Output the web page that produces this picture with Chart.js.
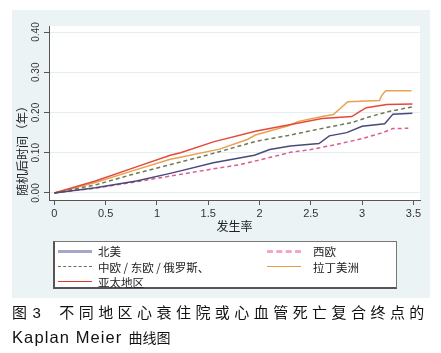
<!DOCTYPE html>
<html lang="zh">
<head>
<meta charset="UTF-8">
<title>Kaplan Meier 曲线图</title>
<script src="https://cdn.jsdelivr.net/npm/chart.js"></script>
<style>
    body { margin: 0; background: #fff; width: 441px; height: 353px; overflow: hidden; }
    #panel { position: absolute; left: 12px; top: 10px; width: 418px; height: 288px; background: #ecf3f5; }
    #legend { position: absolute; left: 41px; top: 231px; width: 341px; height: 45px; background: #fff;
              border: 1px solid #777; border-left: 2px solid #555; border-bottom: 2px solid #555; }
    .item { position: absolute; height: 14px; font: 11.5px "Noto Sans CJK SC", sans-serif; color: #222; white-space: pre; }
    .item .swatch { position: absolute; top: 7px; width: 34px; height: 0; }
    .item .txt { position: absolute; left: 40px; top: -1px; line-height: 16px; }
    #caption { position: absolute; left: 12px; top: 301px; font-family: "Liberation Sans", "Noto Sans CJK SC", sans-serif; color: #111; }
    #caption div { height: 24px; line-height: 24px; white-space: nowrap; }
</style>
</head>
<body>
<div id="panel">
    <canvas id="km" width="418" height="288"></canvas>
    <div id="legend"></div>
</div>
<div id="caption">
    <div style="font-size:15px; letter-spacing:4.45px;">图<span style="margin-left:1px">3</span><span style="margin-left:14px">不同地区心衰住院或心血管死亡复合终点的</span></div>
    <div><span style="font-size:16.5px; letter-spacing:1.1px;">Kaplan Meier</span><span style="font-size:14px; margin-left:6px;">曲线图</span></div>
</div>

<script>
    // axis ticks
    var xTickValues = [0, 0.5, 1, 1.5, 2, 2.5, 3, 3.5];
    var xTickLabels = ['0', '0.5', '1', '1.5', '2', '2.5', '3', '3.5'];
    var yTickValues = [0, 0.1, 0.2, 0.3, 0.4];
    var yTickLabels = ['0.00', '0.10', '0.20', '0.30', '0.40'];

    var seriesNames = ['北美', '中欧 / 东欧 / 俄罗斯、', '亚太地区', '西欧', '拉丁美洲'];

    // 北美
    var naTime = [0, 0.4, 0.8, 1.15, 1.55, 1.95, 2.1, 2.3, 2.58, 2.68, 2.85, 3.0, 3.22, 3.3, 3.49];
    var naRate = [0, 0.013, 0.030, 0.050, 0.075, 0.094, 0.108, 0.117, 0.123, 0.142, 0.150, 0.166, 0.172, 0.196, 0.198];
    // 中欧 / 东欧 / 俄罗斯
    var ceTime = [0, 0.4, 0.8, 1.2, 1.5, 1.78, 1.96, 2.28, 2.6, 2.9, 3.04, 3.25, 3.49];
    var ceRate = [0, 0.020, 0.049, 0.075, 0.095, 0.115, 0.128, 0.143, 0.160, 0.175, 0.187, 0.202, 0.214];
    // 亚太地区
    var apTime = [0, 0.4, 0.8, 1.13, 1.23, 1.55, 1.97, 2.28, 2.61, 2.9, 2.96, 3.04, 3.24, 3.49];
    var apRate = [0, 0.030, 0.065, 0.094, 0.100, 0.127, 0.154, 0.169, 0.185, 0.190, 0.200, 0.212, 0.220, 0.221];
    // 西欧
    var weTime = [0, 0.4, 0.8, 1.2, 1.5, 1.8, 2.0, 2.3, 2.5, 2.7, 3.0, 3.2, 3.3, 3.45];
    var weRate = [0, 0.012, 0.028, 0.045, 0.058, 0.070, 0.082, 0.101, 0.108, 0.118, 0.135, 0.150, 0.160, 0.161];
    // 拉丁美洲
    var laTime = [0, 0.4, 0.8, 1.13, 1.23, 1.61, 1.88, 1.96, 2.28, 2.38, 2.61, 2.72, 2.86, 3.17, 3.19, 3.23, 3.48];
    var laRate = [0, 0.026, 0.058, 0.084, 0.089, 0.109, 0.133, 0.144, 0.167, 0.178, 0.190, 0.195, 0.227, 0.230, 0.242, 0.254, 0.254];

    var lineStyles = [
        { color: '#4a4a7a', dash: [], legendColor: '#a6a6c9', legendWidth: 3, legendDash: 'solid' },
        { color: '#6e7b52', dash: [4, 3], legendColor: '#6d6d58', legendWidth: 1, legendDash: 'dashed' },
        { color: '#e5493a', dash: [], legendColor: '#e8352c', legendWidth: 1.5, legendDash: 'solid' },
        { color: '#dd5a95', dash: [4, 3], legendColor: '#f3a6cb', legendWidth: 3, legendDash: 'dashed' },
        { color: '#e9a050', dash: [], legendColor: '#e89a48', legendWidth: 1.5, legendDash: 'solid' }
    ];

    function toPoints(times, rates) {
        return times.map(function (t, i) { return { x: t, y: rates[i] }; });
    }

    var seriesData = [
        toPoints(naTime, naRate),
        toPoints(ceTime, ceRate),
        toPoints(apTime, apRate),
        toPoints(weTime, weRate),
        toPoints(laTime, laRate)
    ];

    var datasets = seriesNames.map(function (name, i) {
        return {
            label: name,
            data: seriesData[i],
            borderColor: lineStyles[i].color,
            borderDash: lineStyles[i].dash,
            borderWidth: 1.5,
            pointRadius: 0,
            fill: false,
            tension: 0
        };
    });

    var plotBackground = {
        id: 'plotBackground',
        beforeDraw: function (chart) {
            var a = chart.chartArea;
            chart.ctx.save();
            chart.ctx.fillStyle = '#ffffff';
            chart.ctx.fillRect(a.left, a.top, a.right - a.left, a.bottom - a.top);
            chart.ctx.restore();
        }
    };

    // rotated y tick labels and y title
    var yLabels = {
        id: 'yLabels',
        afterDraw: function (chart) {
            var ctx = chart.ctx, y = chart.scales.y;
            ctx.save();
            ctx.fillStyle = '#333';
            ctx.font = '10px "Liberation Sans", sans-serif';
            ctx.textAlign = 'center';
            ctx.textBaseline = 'middle';
            y.ticks.forEach(function (t, i) {
                ctx.save();
                ctx.translate(24, y.getPixelForValue(t.value));
                ctx.rotate(-Math.PI / 2);
                ctx.fillText(yTickLabels[i], 0, 0);
                ctx.restore();
            });
            ctx.fillStyle = '#222';
            ctx.font = '12px "Noto Sans CJK SC", sans-serif';
            ctx.textAlign = 'left';
            ctx.translate(10, 186);
            ctx.rotate(-Math.PI / 2);
            ctx.fillText('随机后时间（年）', 0, 0);
            ctx.restore();
        }
    };

    var chart = new Chart(document.getElementById('km').getContext('2d'), {
        type: 'line',
        data: { datasets: datasets },
        plugins: [plotBackground, yLabels],
        options: {
            responsive: false,
            animation: false,
            layout: { padding: { top: 16, right: 10, bottom: 56, left: 0 } },
            plugins: { legend: { display: false }, tooltip: { enabled: false } },
            scales: {
                x: {
                    type: 'linear',
                    min: -0.052,
                    max: 3.564,
                    afterBuildTicks: function (s) { s.ticks = xTickValues.map(function (v) { return { value: v }; }); },
                    afterFit: function (s) { s.height = 42; },
                    ticks: {
                        callback: function (v, i) { return xTickLabels[i]; },
                        color: '#333',
                        font: { family: '"Liberation Sans", sans-serif', size: 11 },
                        padding: 2,
                        maxRotation: 0,
                        autoSkip: false
                    },
                    grid: { drawOnChartArea: false, drawTicks: true, tickLength: 5, color: '#555' },
                    border: { color: '#555' },
                    title: {
                        display: true,
                        text: '发生率',
                        color: '#222',
                        font: { family: '"Noto Sans CJK SC", sans-serif', size: 12 },
                        padding: { top: 0, bottom: 8 }
                    }
                },
                y: {
                    type: 'linear',
                    min: -0.0174,
                    max: 0.415,
                    afterBuildTicks: function (s) { s.ticks = yTickValues.map(function (v) { return { value: v }; }); },
                    afterFit: function (s) { s.width = 37; },
                    ticks: { display: false },
                    grid: { color: '#e4edf0', tickColor: '#555', drawTicks: true, tickLength: 5 },
                    border: { color: '#555' }
                }
            }
        }
    });

    // legend laid out in two columns like the original
    var legendPos = [[0, 0], [0, 1], [0, 2], [1, 0], [1, 1]];
    var legendBox = document.getElementById('legend');
    seriesNames.forEach(function (name, i) {
        var st = lineStyles[i];
        var item = document.createElement('div');
        item.className = 'item';
        item.style.left = (legendPos[i][0] ? 212 : 3) + 'px';
        item.style.top = (2 + legendPos[i][1] * 15.5) + 'px';
        var sw = document.createElement('div');
        sw.className = 'swatch';
        sw.style.borderTop = st.legendWidth + 'px ' + st.legendDash + ' ' + st.legendColor;
        sw.style.marginTop = (-st.legendWidth / 2) + 'px';
        var tx = document.createElement('div');
        tx.className = 'txt';
        tx.style.left = (legendPos[i][0] ? 46 : 40) + 'px';
        tx.textContent = name;
        item.appendChild(sw);
        item.appendChild(tx);
        legendBox.appendChild(item);
    });
</script>
</body>
</html>
